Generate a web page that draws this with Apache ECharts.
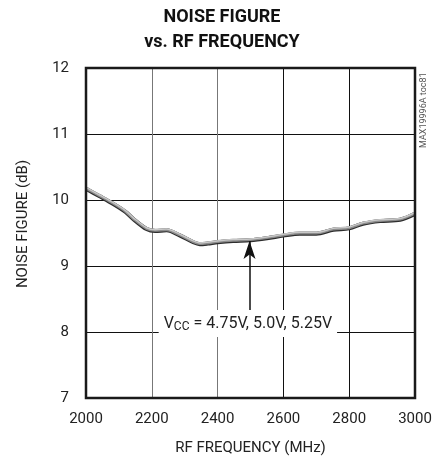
<!DOCTYPE html>
<html>
<head>
<meta charset="utf-8">
<script src="https://cdn.jsdelivr.net/npm/echarts@6/dist/echarts.min.js"></script>
<style>html,body{margin:0;padding:0;background:#fff}#c{width:444px;height:456px}</style>
</head>
<body>
<div id="c"></div>
<script>
var FONT = "Roboto,'Liberation Sans',sans-serif";
var titleLines = ['NOISE FIGURE', 'vs. RF FREQUENCY'];
var xTicks = [2000, 2200, 2400, 2600, 2800, 3000];
var yTicks = [7, 8, 9, 10, 11, 12];
var freq  = [2000, 2040, 2083, 2120, 2144, 2184, 2210, 2245, 2286, 2326, 2346, 2370, 2400, 2447, 2500, 2550, 2600, 2650, 2700, 2752, 2800, 2842, 2894, 2955, 3000];
var nf475 = [10.17, 10.06, 9.94, 9.82, 9.71, 9.56, 9.53, 9.54, 9.46, 9.36, 9.33, 9.34, 9.36, 9.38, 9.39, 9.42, 9.46, 9.49, 9.49, 9.55, 9.57, 9.64, 9.68, 9.70, 9.79];
var nf50  = [10.18, 10.07, 9.95, 9.83, 9.72, 9.57, 9.54, 9.55, 9.47, 9.37, 9.34, 9.35, 9.37, 9.39, 9.40, 9.43, 9.47, 9.50, 9.50, 9.56, 9.58, 9.65, 9.69, 9.71, 9.80];
var nf525 = [10.19, 10.08, 9.96, 9.84, 9.73, 9.58, 9.55, 9.56, 9.48, 9.38, 9.35, 9.36, 9.38, 9.40, 9.41, 9.44, 9.48, 9.51, 9.51, 9.57, 9.59, 9.66, 9.70, 9.72, 9.81];
var arrowFreq = 2497;
var arrowFrom = 8.33;
var arrowTo = 9.38;
var labelPos = [2492, 8.13];
var sideNote = 'MAX19996A toc81';

function pairs(xs, ys) { return xs.map(function (x, i) { return [x, ys[i]]; }); }

var chart = echarts.init(document.getElementById('c'), null, {renderer: 'canvas'});
var lineSeries = function (name, data, color, width) {
  return {
    name: name, type: 'line', data: pairs(freq, data), smooth: 0.3,
    symbol: 'none', lineStyle: {color: color, width: width}, z: 3
  };
};
var s1 = lineSeries('4.75V', nf475, '#2e2e2e', 4);
var s2 = lineSeries('5.0V', nf50, '#8c8c8c', 3);
var s3 = lineSeries('5.25V', nf525, '#c8c8c8', 1.5);
s3.markLine = {
  silent: true, symbol: ['none', 'arrow'], symbolSize: [9, 18],
  lineStyle: {color: '#111', width: 1.5, type: 'solid'},
  label: {show: false},
  data: [[{coord: [arrowFreq, arrowFrom]}, {coord: [arrowFreq, arrowTo]}]]
};
s3.markPoint = {
  silent: true, symbol: 'rect', symbolSize: 0,
  data: [{coord: labelPos}],
  label: {
    show: true, position: 'inside', backgroundColor: '#fff', padding: [5, 5, 4, 5],
    formatter: '{a|V}{s|CC}{a| = 4.75V, 5.0V, 5.25V}',
    rich: {
      a: {fontFamily: FONT, fontSize: 16, color: '#222'},
      s: {fontFamily: FONT, fontSize: 12, color: '#222', verticalAlign: 'bottom', padding: [6, 0, 0, 0]}
    }
  }
};

chart.setOption({
  animation: false,
  backgroundColor: '#fff',
  grid: {left: 86, right: 29, top: 68, bottom: 58, containLabel: false, outerBoundsMode: 'none', show: true, borderColor: '#1a1a1a', borderWidth: 2.5, backgroundColor: 'transparent', z: 10},
  xAxis: {
    type: 'value', min: xTicks[0], max: xTicks[xTicks.length - 1], interval: 200,
    axisLine: {show: false}, axisTick: {show: false},
    axisLabel: {fontFamily: FONT, fontSize: 15, color: '#222', margin: 14, formatter: function (v) { return String(v); }},
    splitLine: {show: true, lineStyle: {color: ['#000', '#777', '#777', '#111', '#111', '#000'], width: 1}},
    name: 'RF FREQUENCY (MHz)', nameLocation: 'middle', nameGap: 43,
    nameTextStyle: {fontFamily: FONT, fontSize: 15, color: '#222'}
  },
  yAxis: {
    type: 'value', min: yTicks[0], max: yTicks[yTicks.length - 1], interval: 1,
    axisLine: {show: false}, axisTick: {show: false},
    axisLabel: {fontFamily: FONT, fontSize: 15, color: '#222', margin: 17},
    splitLine: {show: true, lineStyle: {color: '#111', width: 1}}
  },
  graphic: [
    {type: 'text', left: 'center', top: 5, style: {text: titleLines.join('\n'), x: 0, font: "bold 18px " + FONT, fill: '#111', textAlign: 'center', lineHeight: 25}},
    {type: 'text', x: 23, y: 224, rotation: Math.PI / 2, style: {text: 'NOISE FIGURE (dB)', font: '15px ' + FONT, fill: '#222', textAlign: 'center', textVerticalAlign: 'middle'}},
    {type: 'text', x: 424, y: 148, rotation: Math.PI / 2, style: {text: sideNote, font: '9px ' + FONT, fill: '#555', textAlign: 'left', textVerticalAlign: 'middle'}}
  ],
  series: [s1, s2, s3]
});
</script>
</body>
</html>
